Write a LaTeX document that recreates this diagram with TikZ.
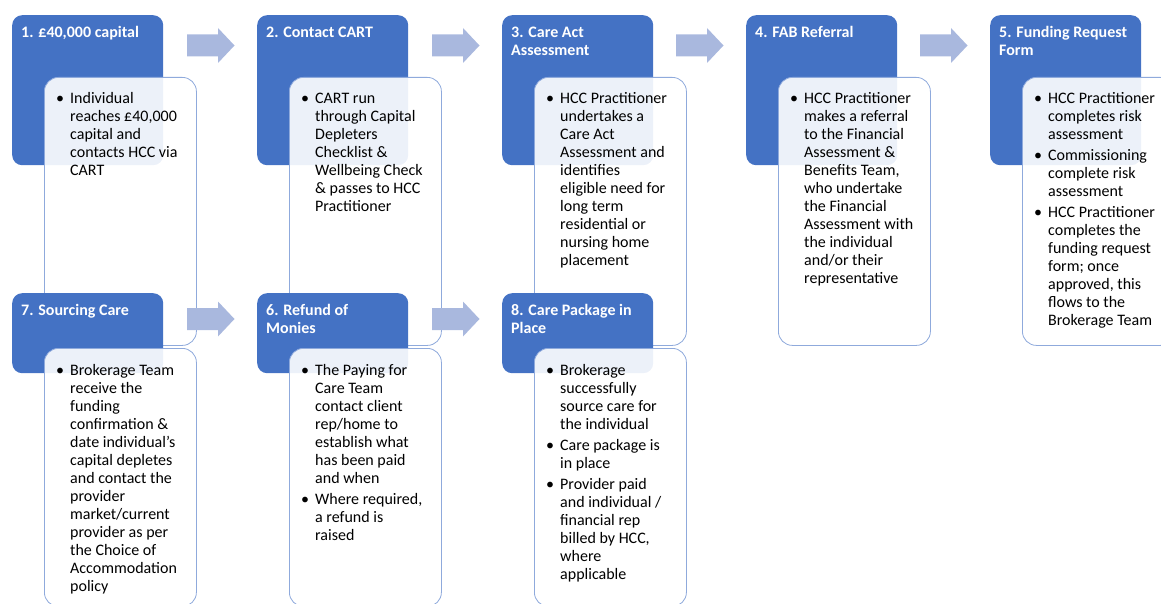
\documentclass[tikz,border=0pt]{standalone}
\usepackage{fontspec}
\setmainfont{Carlito}
\definecolor{hccblue}{HTML}{4472C4}
\definecolor{boxline}{HTML}{8FAADC}
\definecolor{arrowfill}{HTML}{A9B8DE}
\newcommand\bul{\leavevmode\llap{\textbullet\hspace{6pt}}}
\newcommand\ttltxt[1]{\parbox[t]{145pt}{\raggedright\fontsize{16}{18}\selectfont\bfseries #1}}
\newcommand\bodytxt[1]{\parbox[t]{135pt}{\raggedright\fontsize{16}{18}\selectfont #1}}
\tikzset{
  bluebox/.style={fill=hccblue, rounded corners=10pt, anchor=north west, inner sep=0pt,
    minimum width=151pt, minimum height=150pt},
  whitebox/.style={draw=boxline, line width=0.8pt, fill=white, fill opacity=0.9,
    rounded corners=14pt, anchor=north west, inner sep=0pt,
    minimum width=152pt, minimum height=268pt},
  ttl/.style={anchor=base west, inner sep=0pt, text=white},
  bodyt/.style={anchor=base west, inner sep=0pt, text=black},
  barrow/.pic={\fill[arrowfill] (0,-11) -- (31,-11) -- (31,-17.5) -- (47.5,0)
     -- (31,17.5) -- (31,11) -- (0,11) -- cycle;}
}
\begin{document}
\begin{tikzpicture}[x=1pt,y=-1pt]
\useasboundingbox (0,0) rectangle (1161,604);
\clip (0,0) rectangle (1161,604);
% top row blue boxes
\node[bluebox] (b1) at (12,15) {};
\node[bluebox] (b2) at (257,15) {};
\node[bluebox] (b3) at (502,15) {};
\node[bluebox] (b4) at (746,15) {};
\node[bluebox] (b5) at (990,15) {};
\node[ttl] (t1) at (21,37.5) {\ttltxt{1. £40,000 capital}};
\node[ttl] (t2) at (266,37.5) {\ttltxt{2. Contact CART}};
\node[ttl] (t3) at (511,37.5) {\ttltxt{3. Care Act\\Assessment}};
\node[ttl] (t4) at (755,37.5) {\ttltxt{4. FAB Referral}};
\node[ttl] (t5) at (999,37.5) {\ttltxt{5. Funding Request\\Form}};
% top arrows
\pic (a12) at (187,45.5) {barrow};
\pic (a23) at (432,45.5) {barrow};
\pic (a34) at (676,45.5) {barrow};
\pic (a45) at (920,45.5) {barrow};
% top row white boxes
\node[whitebox] (w1) at (44,77) {};
\node[whitebox] (w2) at (289,77) {};
\node[whitebox] (w3) at (534,77) {};
\node[whitebox] (w4) at (778,77) {};
\node[whitebox] (w5) at (1022,77) {};
\node[bodyt] (x1) at (70,104) {\bodytxt{\bul Individual\\reaches £40,000\\capital and\\contacts HCC via\\CART}};
\node[bodyt] (x2) at (315,104) {\bodytxt{\bul CART run\\through Capital\\Depleters\\Checklist \&\\Wellbeing Check\\\& passes to HCC\\Practitioner}};
\node[bodyt] (x3) at (560,104) {\bodytxt{\bul HCC Practitioner\\undertakes a\\Care Act\\Assessment and\\identifies\\eligible need for\\long term\\residential or\\nursing home\\placement}};
\node[bodyt] (x4) at (804,104) {\bodytxt{\bul HCC Practitioner\\makes a referral\\to the Financial\\Assessment \&\\Benefits Team,\\who undertake\\the Financial\\Assessment with\\the individual\\and/or their\\representative}};
\node[bodyt] (x5) at (1048,104) {\bodytxt{\bul HCC Practitioner\\completes risk\\assessment\\[3pt]\bul Commissioning\\complete risk\\assessment\\[3pt]\bul HCC Practitioner\\completes the\\funding request\\form; once\\approved, this\\flows to the\\Brokerage Team}};
% bottom row blue boxes
\node[bluebox, minimum height=80pt] (b7) at (12,293) {};
\node[bluebox, minimum height=80pt] (b6) at (257,293) {};
\node[bluebox, minimum height=80pt] (b8) at (502,293) {};
\node[ttl] (t7) at (21,315.5) {\ttltxt{7. Sourcing Care}};
\node[ttl] (t6) at (266,315.5) {\ttltxt{6. Refund of\\Monies}};
\node[ttl] (t8) at (511,315.5) {\ttltxt{8. Care Package in\\Place}};
% bottom arrows
\pic (a76) at (187,319) {barrow};
\pic (a68) at (432,319) {barrow};
% bottom row white boxes
\node[whitebox, minimum height=258pt] (w7) at (44,348) {};
\node[whitebox, minimum height=258pt] (w6) at (289,348) {};
\node[whitebox, minimum height=258pt] (w8) at (534,348) {};
\node[bodyt] (x7) at (70,375) {\bodytxt{\bul Brokerage Team\\receive the\\funding\\confirmation \&\\date individual’s\\capital depletes\\and contact the\\provider\\market/current\\provider as per\\the Choice of\\Accommodation\\policy}};
\node[bodyt] (x6) at (315,375) {\bodytxt{\bul The Paying for\\Care Team\\contact client\\rep/home to\\establish what\\has been paid\\and when\\[3pt]\bul Where required,\\a refund is\\raised}};
\node[bodyt] (x8) at (560,375) {\bodytxt{\bul Brokerage\\successfully\\source care for\\the individual\\[3pt]\bul Care package is\\in place\\[3pt]\bul Provider paid\\and individual /\\financial rep\\billed by HCC,\\where\\applicable}};
\end{tikzpicture}
\end{document}
